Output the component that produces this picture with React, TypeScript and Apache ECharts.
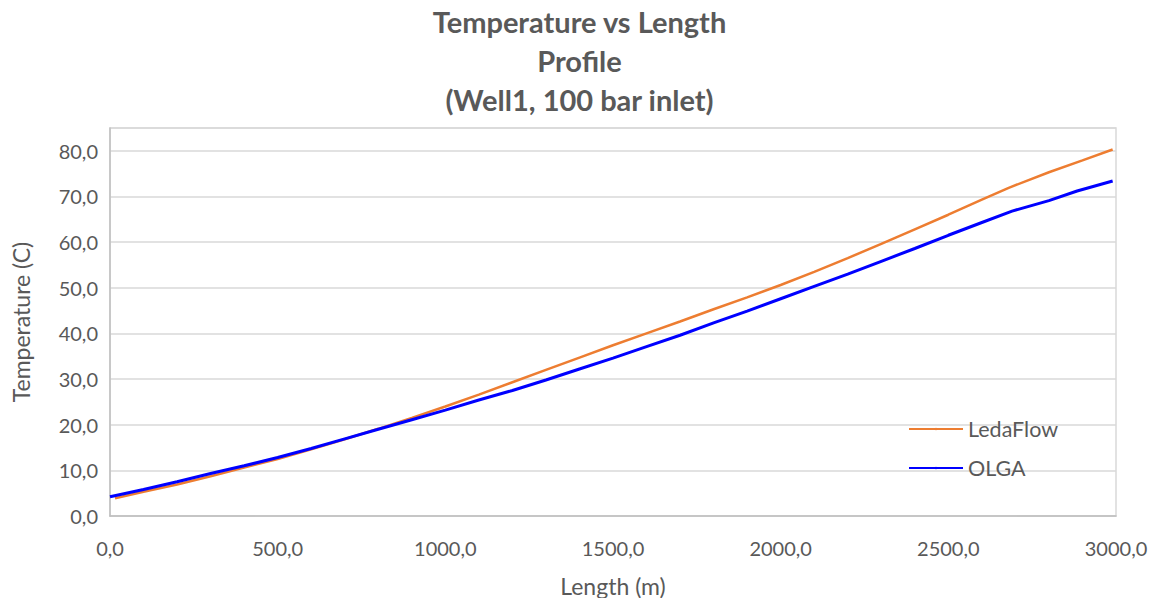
import React, { useEffect, useRef } from "react";
import * as echarts from "echarts";

// Length along the well (m) and temperature (C) for each simulator
const ledaLength = [15, 100, 200, 300, 400, 500, 600, 700, 800, 900, 1000, 1100, 1200, 1300, 1400, 1500, 1600, 1700, 1800, 1900, 2000, 2100, 2200, 2300, 2400, 2500, 2600, 2680, 2800, 2900, 2990];
const ledaTemp = [3.9, 5.3, 6.9, 8.7, 10.6, 12.5, 14.6, 16.8, 19.1, 21.5, 24.0, 26.6, 29.3, 32.0, 34.7, 37.4, 40.0, 42.6, 45.3, 47.9, 50.6, 53.5, 56.5, 59.6, 62.8, 66.0, 69.3, 71.9, 75.3, 77.9, 80.3];

const olgaLength = [0, 100, 200, 300, 400, 500, 600, 700, 800, 900, 1000, 1100, 1200, 1300, 1400, 1500, 1600, 1700, 1800, 1900, 2000, 2100, 2200, 2300, 2400, 2500, 2600, 2690, 2800, 2884, 2990];
const olgaTemp = [4.2, 5.8, 7.5, 9.3, 11.0, 12.8, 14.8, 16.9, 19.0, 21.1, 23.2, 25.4, 27.5, 29.8, 32.2, 34.6, 37.1, 39.6, 42.3, 44.9, 47.6, 50.3, 53.0, 55.8, 58.6, 61.5, 64.3, 66.8, 69.1, 71.2, 73.4];

const seriesNames = ["LedaFlow", "OLGA"];
const titleText = "Temperature vs Length\nProfile\n(Well1, 100 bar inlet)";

const FONT = "Lato, 'Open Sans', sans-serif";
const GREY = "#595959";

const pairs = (xs: number[], ys: number[]) => xs.map((x, i) => [x, ys[i]]);
const comma = (v: number) => v.toFixed(1).replace(".", ",");

export default function App() {
  const ref = useRef<HTMLDivElement>(null);

  useEffect(() => {
    if (!ref.current) return;
    const chart = echarts.init(ref.current, undefined, { renderer: "svg" });
    chart.setOption({
      animation: false,
      backgroundColor: "#ffffff",
      title: {
        text: titleText,
        left: "center",
        top: -3,
        textStyle: {
          fontFamily: FONT,
          fontSize: 29,
          fontWeight: "bold",
          color: GREY,
          lineHeight: 39,
        },
      },
      legend: {
        data: seriesNames,
        orient: "vertical",
        left: 903,
        top: 413,
        itemWidth: 54,
        itemHeight: 3,
        itemGap: 17,
        textStyle: { fontFamily: FONT, fontSize: 21.5, color: GREY },
      },
      grid: {
        left: 110,
        right: 43,
        top: 128,
        bottom: 82,
        outerBoundsMode: "none",
        show: true,
        borderColor: "#D9D9D9",
        borderWidth: 1.5,
      },
      xAxis: {
        type: "value",
        min: 0,
        max: 3000,
        interval: 500,
        name: "Length (m)",
        nameLocation: "middle",
        nameGap: 58,
        nameTextStyle: { fontFamily: FONT, fontSize: 23, color: GREY },
        axisLine: { show: true, lineStyle: { color: "#BFBFBF", width: 1.5 } },
        axisTick: { show: false },
        splitLine: { show: false },
        axisLabel: {
          fontFamily: FONT,
          fontSize: 20,
          color: GREY,
          margin: 22,
          formatter: (v: number) => comma(v),
        },
      },
      yAxis: {
        type: "value",
        min: 0,
        max: 85,
        interval: 10,
        name: "Temperature (C)",
        nameLocation: "middle",
        nameGap: 78,
        nameTextStyle: { fontFamily: FONT, fontSize: 23, color: GREY },
        axisLine: { show: true, lineStyle: { color: "#BFBFBF", width: 1.5 } },
        axisTick: { show: false },
        splitLine: { show: true, lineStyle: { color: "#D9D9D9", width: 1.5 } },
        axisLabel: {
          fontFamily: FONT,
          fontSize: 20,
          color: GREY,
          margin: 12,
          formatter: (v: number) => (v % 10 === 0 ? comma(v) : ""),
        },
      },
      series: [
        {
          name: seriesNames[0],
          type: "line",
          data: pairs(ledaLength, ledaTemp),
          showSymbol: false,
          symbol: "none",
          lineStyle: { color: "#ED7D31", width: 2.5 },
          itemStyle: { color: "#ED7D31" },
        },
        {
          name: seriesNames[1],
          type: "line",
          data: pairs(olgaLength, olgaTemp),
          showSymbol: false,
          symbol: "none",
          lineStyle: { color: "#0000FF", width: 3 },
          itemStyle: { color: "#0000FF" },
        },
      ],
    });
    return () => chart.dispose();
  }, []);

  return (
    <div
      ref={ref}
      style={{ position: "absolute", left: 0, top: 0, width: 1159, height: 598 }}
    />
  );
}
